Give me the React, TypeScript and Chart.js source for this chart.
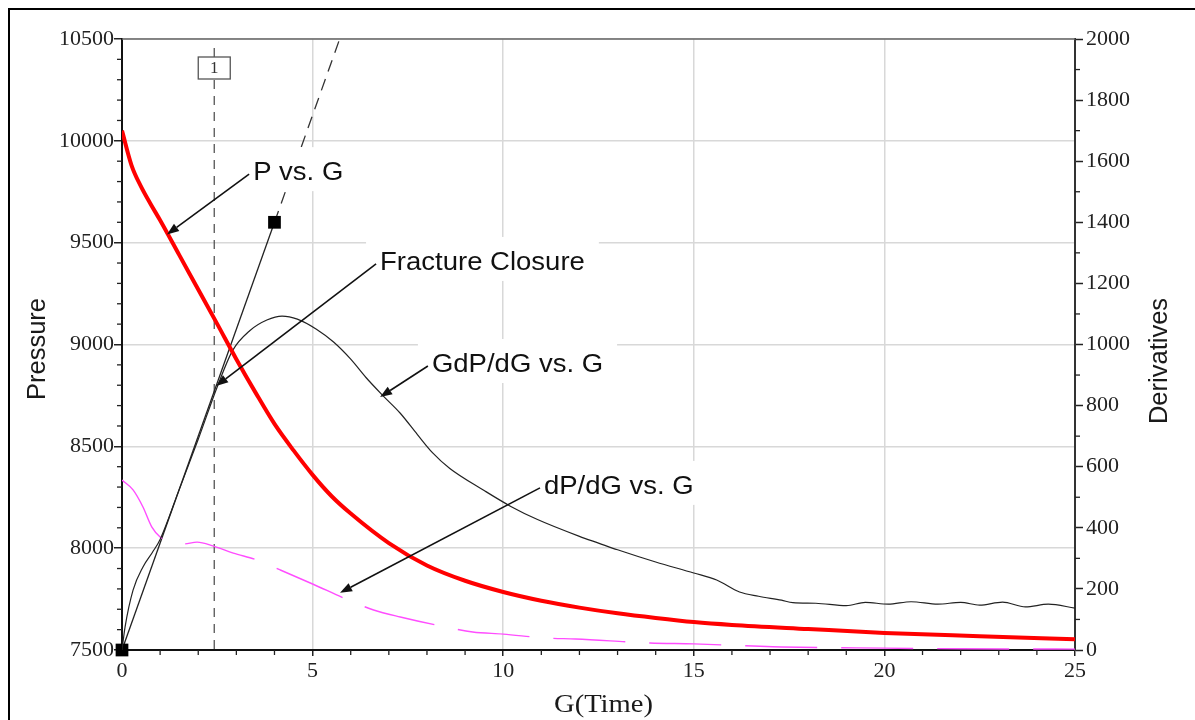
import { useEffect, useRef } from "react";
import { Chart, registerables } from "chart.js";

Chart.register(...registerables);

// ---- Axis ranges ----
const gMin = 0;
const gMax = 25;
const pressureMin = 7500;
const pressureMax = 10500;
const derivMin = 0;
const derivMax = 2000;

// ---- P vs. G (left axis, psi) ----
const pressureG = [0, 0.25, 0.5, 0.75, 1.0, 1.5, 2.0, 2.5, 3.0, 3.5, 4.0, 4.5, 5.0, 5.5, 6.0, 7.0, 8.0, 9.0, 10, 11, 12, 13, 14, 15, 16, 18, 20, 22.5, 25];
const pressurePsi = [10050, 9880, 9775, 9690, 9610, 9440, 9270, 9100, 8928, 8765, 8610, 8480, 8360, 8255, 8170, 8025, 7915, 7840, 7785, 7742, 7708, 7680, 7657, 7637, 7623, 7603, 7584, 7568, 7553];

// ---- G dP/dG vs. G (right axis) ----
const gdpG = [0, 0.08, 0.29, 0.55, 0.8, 1.0, 1.5, 2.0, 2.5, 2.9, 3.35, 3.8, 4.2, 4.6, 5.1, 5.55, 6.0, 6.4, 6.85, 7.3, 7.75, 8.15, 8.6, 9.5, 10.2, 10.9, 12.0, 12.5, 13.0, 14.0, 15.0, 15.6, 16.2, 16.7, 17.3, 17.6, 18.2, 19.0, 19.5, 20.1, 20.7, 21.4, 22.0, 22.5, 23.1, 23.7, 24.3, 25];
const gdpVal = [0, 75, 196, 272, 320, 362, 525, 690, 862, 980, 1045, 1080, 1093, 1083, 1050, 1008, 952, 892, 832, 775, 705, 645, 594, 522, 470, 427, 372, 350, 328, 288, 252, 229, 190, 176, 163, 155, 153, 145, 156, 150, 158, 150, 156, 147, 157, 141, 150, 137];

// ---- dP/dG vs. G (right axis) ----
const dpG = [0, 0.29, 0.55, 0.78, 1.0, 1.3, 1.6, 1.97, 2.4, 2.92, 3.53, 4.15, 5.0, 5.93, 6.6, 7.3, 8.5, 9.2, 10, 11.15, 11.9, 13.85, 15, 16.55, 17.3, 20, 22, 25];
const dpVal = [556, 524, 468, 403, 370, 352, 347, 353, 340, 317, 295, 262, 216, 164, 131, 108, 75, 59, 52, 39, 36, 23, 20, 13, 10, 6, 4, 3];

// ---- Straight-line tangent through the origin ----
const tangentG = [0, 4];
const tangentVal = [0, 1400];
const tangentExtG = [4, 5.71];
const tangentExtVal = [1400, 2000];

// ---- Closure marker ----
const closureG = 2.42;
const closureLabel = "1";

// ---- Callouts: text anchor and arrow tip in data units ----
const calloutText = ["P vs. G", "Fracture Closure", "GdP/dG vs. G", "dP/dG vs. G"];
const calloutAnchorG = [3.44, 6.77, 8.13, 11.07];
const calloutAnchorDeriv = [1538, 1244, 910, 511];
const calloutTipG = [1.18, 2.47, 6.77, 5.72];
const calloutTipVal = [9540, 864, 828, 187];
const calloutTipAxis = ["y", "y1", "y1", "y1"];

const SANS = "'Liberation Sans', Arial, sans-serif";
const SERIF = "'Liberation Serif', 'Times New Roman', serif";
const STRETCH = 1.1;

const toPoints = (xs: number[], ys: number[]) => xs.map((x, i) => ({ x, y: ys[i] }));

function line(ctx: CanvasRenderingContext2D, x1: number, y1: number, x2: number, y2: number) {
  ctx.beginPath();
  ctx.moveTo(x1, y1);
  ctx.lineTo(x2, y2);
  ctx.stroke();
}

function stretchedText(ctx: CanvasRenderingContext2D, text: string, x: number, y: number, align: "left" | "center") {
  const w = ctx.measureText(text).width * STRETCH;
  const left = align === "center" ? x - w / 2 : x;
  ctx.save();
  ctx.translate(left, y);
  ctx.scale(STRETCH, 1);
  ctx.textAlign = "left";
  ctx.fillText(text, 0, 0);
  ctx.restore();
  return w;
}

const decorPlugin = {
  id: "decor",
  beforeDatasetsDraw(chart: any) {
    const { ctx, chartArea } = chart;
    const { x, y, y1 } = chart.scales;
    ctx.save();
    // minor ticks
    ctx.strokeStyle = "#222";
    ctx.lineWidth = 1.3;
    for (let g = gMin + 1; g < gMax; g += 1) {
      if (g % 5 === 0) continue;
      const px = x.getPixelForValue(g);
      line(ctx, px, chartArea.bottom, px, chartArea.bottom + 5);
    }
    for (let p = pressureMin + 100; p < pressureMax; p += 100) {
      if (p % 500 === 0) continue;
      const py = y.getPixelForValue(p);
      line(ctx, chartArea.left - 5, py, chartArea.left, py);
    }
    for (let d = derivMin + 100; d < derivMax; d += 200) {
      const py = y1.getPixelForValue(d);
      line(ctx, chartArea.right, py, chartArea.right + 5, py);
    }
    // top edge of the plot
    ctx.strokeStyle = "#666";
    ctx.lineWidth = 1.5;
    line(ctx, chartArea.left, chartArea.top, chartArea.right, chartArea.top);

    // closure marker line with its label box
    const cx = x.getPixelForValue(closureG);
    ctx.strokeStyle = "#555";
    ctx.lineWidth = 1.3;
    ctx.setLineDash([9, 7]);
    line(ctx, cx, chartArea.top + 9, cx, chartArea.bottom);
    ctx.setLineDash([]);
    const bw = 32;
    const bh = 22;
    const by = chartArea.top + 18;
    ctx.fillStyle = "#fff";
    ctx.fillRect(cx - bw / 2, by, bw, bh);
    ctx.strokeStyle = "#555";
    ctx.strokeRect(cx - bw / 2, by, bw, bh);
    ctx.fillStyle = "#333";
    ctx.font = `17px ${SERIF}`;
    ctx.textAlign = "center";
    ctx.textBaseline = "middle";
    ctx.fillText(closureLabel, cx, by + bh / 2 + 1);
    ctx.restore();
  },
  afterDatasetsDraw(chart: any) {
    const { ctx } = chart;
    const { x, y, y1 } = chart.scales;
    ctx.save();
    ctx.font = `25px ${SANS}`;
    ctx.textBaseline = "alphabetic";
    calloutText.forEach((text, i) => {
      const left = x.getPixelForValue(calloutAnchorG[i]);
      const base = y1.getPixelForValue(calloutAnchorDeriv[i]);
      const w = ctx.measureText(text).width * STRETCH;
      // white box behind the text
      ctx.fillStyle = "#fff";
      ctx.fillRect(left - 14, base - 33, w + 28, 44);
      ctx.fillStyle = "#111";
      stretchedText(ctx, text, left, base, "left");
      // arrow
      const tipScale = calloutTipAxis[i] === "y" ? y : y1;
      const tx = x.getPixelForValue(calloutTipG[i]);
      const ty = tipScale.getPixelForValue(calloutTipVal[i]);
      const sx = left - 4;
      const sy = base - 6;
      ctx.strokeStyle = "#111";
      ctx.lineWidth = 1.6;
      const ang = Math.atan2(ty - sy, tx - sx);
      const headLen = 12;
      const headW = 4.5;
      const bx = tx - Math.cos(ang) * headLen;
      const byy = ty - Math.sin(ang) * headLen;
      line(ctx, sx, sy, bx, byy);
      ctx.fillStyle = "#111";
      ctx.beginPath();
      ctx.moveTo(tx, ty);
      ctx.lineTo(bx + Math.sin(ang) * headW, byy - Math.cos(ang) * headW);
      ctx.lineTo(bx - Math.sin(ang) * headW, byy + Math.cos(ang) * headW);
      ctx.closePath();
      ctx.fill();
    });
    ctx.restore();
  },
  afterDraw(chart: any) {
    const { ctx, chartArea } = chart;
    ctx.save();
    // outer frame (top and left)
    ctx.strokeStyle = "#000";
    ctx.lineWidth = 2;
    line(ctx, 9, 9, 1195, 9);
    line(ctx, 9, 8, 9, 720);
    // axis titles
    ctx.fillStyle = "#1a1a1a";
    ctx.font = `25.5px ${SANS}`;
    ctx.textAlign = "center";
    ctx.textBaseline = "middle";
    ctx.save();
    ctx.translate(38, 349);
    ctx.rotate(-Math.PI / 2);
    ctx.fillText("Pressure", 0, 0);
    ctx.restore();
    ctx.save();
    ctx.translate(1160, 361);
    ctx.rotate(-Math.PI / 2);
    ctx.fillText("Derivatives", 0, 0);
    ctx.restore();
    ctx.font = `26px ${SERIF}`;
    ctx.textBaseline = "alphabetic";
    stretchedText(ctx, "G(Time)", (chartArea.left + chartArea.right) / 2 + 5, 712, "center");
    ctx.restore();
  },
};

const plainNumber = (v: any) => String(v);

export default function App() {
  const canvasRef = useRef<HTMLCanvasElement | null>(null);

  useEffect(() => {
    const canvas = canvasRef.current;
    if (!canvas) return;
    const tickFont = { family: SERIF, size: 22 };
    const chart = new Chart(canvas, {
      type: "line",
      data: {
        datasets: [
          {
            label: "P vs. G",
            data: toPoints(pressureG, pressurePsi),
            yAxisID: "y",
            borderColor: "#ff0000",
            borderWidth: 4,
            pointRadius: 0,
            cubicInterpolationMode: "monotone",
          },
          {
            label: "GdP/dG vs. G",
            data: toPoints(gdpG, gdpVal),
            yAxisID: "y1",
            borderColor: "#222",
            borderWidth: 1.2,
            pointRadius: 0,
            cubicInterpolationMode: "monotone",
          },
          {
            label: "dP/dG vs. G",
            data: toPoints(dpG, dpVal),
            yAxisID: "y1",
            borderColor: "#ff4dff",
            borderWidth: 1.4,
            borderDash: [72, 24],
            pointRadius: 0,
            cubicInterpolationMode: "monotone",
          },
          {
            label: "Tangent",
            data: toPoints(tangentG, tangentVal),
            yAxisID: "y1",
            borderColor: "#222",
            borderWidth: 1.3,
            pointStyle: "rect",
            pointRadius: 9,
            pointBackgroundColor: "#000",
            pointBorderColor: "#000",
            pointBorderWidth: 0,
            clip: false as any,
          },
          {
            label: "Tangent extension",
            data: toPoints(tangentExtG, tangentExtVal),
            yAxisID: "y1",
            borderColor: "#333",
            borderWidth: 1.3,
            borderDash: [12, 8],
            pointRadius: 0,
          },
        ],
      },
      options: {
        animation: false,
        responsive: false,
        maintainAspectRatio: false,
        layout: { padding: { top: 39, left: 0, right: 0, bottom: 0 } },
        plugins: { legend: { display: false }, tooltip: { enabled: false } },
        scales: {
          x: {
            type: "linear",
            min: gMin,
            max: gMax,
            ticks: { stepSize: 5, font: tickFont, color: "#222", padding: 2, maxRotation: 0, callback: plainNumber },
            grid: { color: "#d8d8d8", lineWidth: 1.5, tickLength: 6, tickColor: "#222", tickWidth: 1.5 },
            border: { color: "#111", width: 2 },
            afterFit: (s: any) => {
              s.height = 70;
            },
          },
          y: {
            type: "linear",
            position: "left",
            min: pressureMin,
            max: pressureMax,
            ticks: { stepSize: 500, font: tickFont, color: "#222", padding: 0, callback: plainNumber },
            grid: { color: "#d8d8d8", lineWidth: 1.5, tickLength: 8, tickColor: "#222", tickWidth: 1.5 },
            border: { color: "#111", width: 2 },
            afterFit: (s: any) => {
              s.width = 122;
            },
          },
          y1: {
            type: "linear",
            position: "right",
            min: derivMin,
            max: derivMax,
            ticks: { stepSize: 200, font: tickFont, color: "#222", padding: 3, callback: plainNumber },
            grid: { drawOnChartArea: false, tickLength: 8, tickColor: "#222", tickWidth: 1.5 },
            border: { color: "#333", width: 2 },
            afterFit: (s: any) => {
              s.width = 120;
            },
          },
        },
      } as any,
      plugins: [decorPlugin],
    });
    return () => chart.destroy();
  }, []);

  return (
    <div style={{ position: "fixed", left: 0, top: 0, width: 1195, height: 720, background: "#fff" }}>
      <canvas ref={canvasRef} width={1195} height={720} style={{ display: "block" }} />
    </div>
  );
}
